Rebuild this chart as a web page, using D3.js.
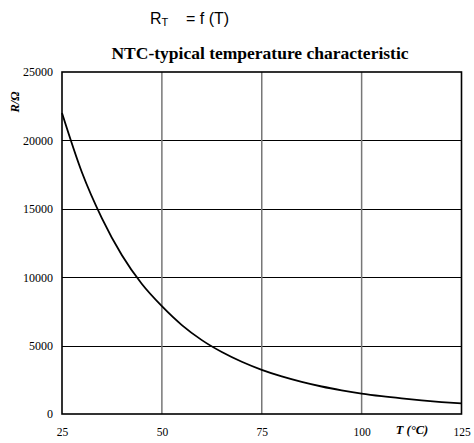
<!DOCTYPE html>
<html>
<head>
<meta charset="utf-8">
<script src="https://cdn.jsdelivr.net/npm/d3@7"></script>
<style>
  html, body { margin: 0; padding: 0; background: #fff; }
  svg { display: block; }
</style>
</head>
<body>
<svg id="chart" width="474" height="443"></svg>
<script>
// Resistance of a typical 22 kΩ NTC thermistor over temperature
const temperatures = [25, 30, 35, 40, 45, 50, 55, 60, 65, 70, 75, 80, 85, 90, 95, 100, 105, 110, 115, 120, 125];
const resistances  = [22000, 17650, 14300, 11600, 9500, 7880, 6500, 5400, 4530, 3820, 3230, 2750, 2350, 2010, 1730, 1490, 1300, 1140, 1000, 875, 770];

const xTicks = [25, 50, 75, 100, 125];
const yTicks = [0, 5000, 10000, 15000, 20000, 25000];

const titleText = "NTC-typical temperature characteristic";
const xLabel = "T (°C)";
const yLabel = "R/Ω";

const svg = d3.select("#chart");
const margin = { left: 62, right: 12.5, top: 72, bottom: 29 };
const W = 474, H = 443;

const x = d3.scaleLinear().domain([25, 125]).range([margin.left, W - margin.right]);
const y = d3.scaleLinear().domain([0, 25000]).range([H - margin.bottom, margin.top]);

const serif = "'Liberation Serif', 'Times New Roman', serif";

// Formula heading: R_T = f (T)
const formula = svg.append("text")
  .attr("x", 150).attr("y", 24)
  .attr("font-family", "'Liberation Sans', Arial, sans-serif")
  .attr("font-size", 16)
  .attr("fill", "#000");
formula.append("tspan").text("R");
formula.append("tspan").attr("font-size", 11).attr("dy", 2).text("T");
formula.append("tspan").attr("dy", -2).attr("x", 186).text("= f (T)");

// Chart title
svg.append("text")
  .attr("x", 260).attr("y", 59)
  .attr("text-anchor", "middle")
  .attr("font-family", serif)
  .attr("font-weight", "bold")
  .attr("font-size", 17.5)
  .text(titleText);

// Horizontal grid lines
svg.append("g")
  .selectAll("line")
  .data(yTicks.filter(d => d > 0 && d < 25000))
  .join("line")
  .attr("x1", x(25)).attr("x2", x(125))
  .attr("y1", d => Math.round(y(d)) + 0.5).attr("y2", d => Math.round(y(d)) + 0.5)
  .attr("stroke", "#000").attr("stroke-width", 1);

// Vertical grid lines
svg.append("g")
  .selectAll("line")
  .data(xTicks.filter(d => d > 25 && d < 125))
  .join("line")
  .attr("x1", d => x(d)).attr("x2", d => x(d))
  .attr("y1", y(25000)).attr("y2", y(0))
  .attr("stroke", "#777").attr("stroke-width", 1.5);

// Plot frame
svg.append("rect")
  .attr("x", x(25)).attr("y", y(25000))
  .attr("width", x(125) - x(25)).attr("height", y(0) - y(25000))
  .attr("fill", "none").attr("stroke", "#000").attr("stroke-width", 1.6);

// Axes labels via d3 axes (no tick lines or domain)
const xAxis = svg.append("g")
  .attr("transform", `translate(0,${y(0)})`)
  .call(d3.axisBottom(x).tickValues(xTicks).tickSize(0).tickPadding(14).tickFormat(d3.format("d")));
xAxis.select(".domain").remove();
xAxis.selectAll("text").attr("font-family", serif).attr("font-size", 11.5).attr("fill", "#000");

const yAxis = svg.append("g")
  .attr("transform", `translate(${x(25)},0)`)
  .call(d3.axisLeft(y).tickValues(yTicks).tickSize(0).tickPadding(9).tickFormat(d3.format("d")));
yAxis.select(".domain").remove();
yAxis.selectAll("text").attr("font-family", serif).attr("font-size", 12).attr("fill", "#000");

// Curve
const pts = temperatures.map((t, i) => [t, resistances[i]]);
svg.append("path")
  .datum(pts)
  .attr("fill", "none")
  .attr("stroke", "#000")
  .attr("stroke-width", 1.8)
  .attr("d", d3.line().x(d => x(d[0])).y(d => y(d[1])).curve(d3.curveMonotoneX));

// Axis titles
svg.append("text")
  .attr("x", 412).attr("y", 434)
  .attr("text-anchor", "middle")
  .attr("font-family", serif)
  .attr("font-weight", "bold").attr("font-style", "italic")
  .attr("font-size", 12.5)
  .text(xLabel);

svg.append("text")
  .attr("transform", "translate(19,102) rotate(-90)")
  .attr("text-anchor", "middle")
  .attr("font-family", serif)
  .attr("font-weight", "bold").attr("font-style", "italic")
  .attr("font-size", 12.5)
  .text(yLabel);
</script>
</body>
</html>
